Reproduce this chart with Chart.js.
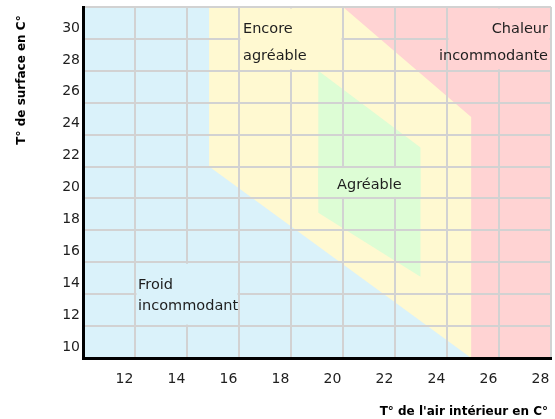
<!DOCTYPE html>
<html>
<head>
<meta charset="utf-8">
<script src="https://cdn.jsdelivr.net/npm/chart.js@4/dist/chart.umd.min.js"></script>
<style>
html,body{margin:0;padding:0;background:#fff}
canvas{display:block}
</style>
</head>
<body>
<canvas id="c" width="555" height="419"></canvas>
<script>
// ---- data ----
const xRange = [11, 29];
const yRange = [9, 31];
const xTickLabels = [12, 14, 16, 18, 20, 22, 24, 26, 28];
const yTickLabels = [10, 12, 14, 16, 18, 20, 22, 24, 26, 28, 30];

const zoneNames = ['Froid incommodant', 'Encore agréable', 'Chaleur incommodante', 'Agréable'];

// zone polygons (x = T° air intérieur, y = T° de surface)
const froidX = [11, 11, 29, 29];
const froidY = [9, 31, 31, 9];
const encoreX = [15.85, 29, 29, 25.93, 15.85];
const encoreY = [31, 31, 9, 9, 21];
const chaleurX = [21, 29, 29, 25.93, 25.93];
const chaleurY = [31, 31, 9, 9, 24.1];
const agreableX = [20.05, 23.98, 23.98, 20.05];
const agreableY = [27, 22.2, 14.1, 18.1];

const axisTitleX = "T° de l'air intérieur en C°";
const axisTitleY = 'T° de surface en C°';

// ---- styles ----
const colors = {
  froid: '#daf2fa',
  encore: '#fff9d1',
  chaleur: '#ffd3d3',
  agreable: '#ddfdd5',
  grid: '#d2d2d2',
  text: '#1e1e1e'
};

function zone(label, xs, ys, color) {
  const pts = xs.map((v, i) => ({x: v, y: ys[i]}));
  pts.push({x: xs[0], y: ys[0]});
  return {
    label: label,
    data: pts,
    backgroundColor: color,
    borderColor: 'rgba(0,0,0,0)',
    borderWidth: 0,
    pointRadius: 0,
    pointHoverRadius: 0,
    tension: 0,
    fill: 'shape'
  };
}

const zoneLabels = {
  id: 'zoneLabels',
  afterDraw(chart, args, opts) {
    const {ctx, scales: {x, y}, chartArea} = chart;
    ctx.save();
    opts.items.forEach(it => {
      const l = x.getPixelForValue(it.box[0]);
      const r = x.getPixelForValue(it.box[1]);
      const t = y.getPixelForValue(it.box[3]);
      const b = y.getPixelForValue(it.box[2]);
      ctx.fillStyle = it.bg;
      ctx.fillRect(l + it.inset, t + 1.5, r - l - 2 * it.inset, b - t - 3);
      ctx.fillStyle = colors.text;
      ctx.font = '14.5px "DejaVu Sans"';
      ctx.textBaseline = 'alphabetic';
      ctx.textAlign = it.align;
      const tx = it.align === 'left' ? l + it.dx : (it.align === 'right' ? r - it.dx : (l + r) / 2);
      it.lines.forEach((s, i) => ctx.fillText(s, tx, t + it.baselines[i]));
    });
    // axis titles
    ctx.fillStyle = '#000';
    ctx.font = 'bold 12px "DejaVu Sans"';
    ctx.textAlign = 'right';
    ctx.textBaseline = 'middle';
    ctx.fillText(axisTitleX, chartArea.right - 3, 411.5);
    ctx.translate(21.5, 80);
    ctx.rotate(-Math.PI / 2);
    ctx.textAlign = 'center';
    ctx.fillText(axisTitleY, 0, 0);
    ctx.restore();
  }
};

const tickFont = {family: 'DejaVu Sans', size: 14};

new Chart(document.getElementById('c'), {
  type: 'line',
  data: {
    datasets: [
      zone(zoneNames[3], agreableX, agreableY, colors.agreable),
      zone(zoneNames[2], chaleurX, chaleurY, colors.chaleur),
      zone(zoneNames[1], encoreX, encoreY, colors.encore),
      zone(zoneNames[0], froidX, froidY, colors.froid)
    ]
  },
  options: {
    responsive: false,
    devicePixelRatio: 1,
    animation: false,
    events: [],
    layout: {padding: {top: 7, right: 4, left: 0, bottom: 0}},
    plugins: {
      legend: {display: false},
      tooltip: {enabled: false},
      zoneLabels: {
        items: [
          {box: [17, 21, 27, 31], bg: colors.encore, inset: 1.5, align: 'left', dx: 4,
           lines: ['Encore', 'agréable'], baselines: [26, 53]},
          {box: [25, 29, 27, 31], bg: colors.chaleur, inset: 1.5, align: 'right', dx: 3,
           lines: ['Chaleur', 'incommodante'], baselines: [26, 53]},
          {box: [13, 17, 11, 15], bg: colors.froid, inset: 1.5, align: 'left', dx: 3,
           lines: ['Froid', 'incommodant'], baselines: [27, 48]},
          {box: [agreableX[0], agreableX[1], 19, 21], bg: colors.agreable, inset: 0, align: 'center', dx: 0,
           lines: ['Agréable'], baselines: [22]}
        ]
      }
    },
    scales: {
      x: {
        type: 'linear',
        min: xRange[0],
        max: xRange[1],
        afterFit: s => { s.height = 61; s.paddingLeft = 0; s.paddingRight = 0; },
        ticks: {
          stepSize: 1,
          autoSkip: false,
          maxRotation: 0,
          labelOffset: 15.5,
          padding: 13,
          font: tickFont,
          color: colors.text,
          callback: v => xTickLabels.includes(v) ? String(v) : ''
        },
        grid: {
          color: c => (c.tick && Math.abs(c.tick.value % 2) === 1) ? colors.grid : 'rgba(0,0,0,0)',
          lineWidth: 2,
          drawTicks: false,
          z: 1
        },
        border: {display: true, color: '#000', width: 3, z: 2}
      },
      y: {
        type: 'linear',
        min: yRange[0],
        max: yRange[1],
        afterFit: s => { s.width = 83; s.paddingTop = 0; s.paddingBottom = 0; },
        ticks: {
          stepSize: 1,
          autoSkip: false,
          labelOffset: 5,
          padding: 3,
          font: tickFont,
          color: colors.text,
          callback: v => yTickLabels.includes(v) ? String(v) : ''
        },
        grid: {
          color: c => (c.tick && Math.abs(c.tick.value % 2) === 1) ? colors.grid : 'rgba(0,0,0,0)',
          lineWidth: 2,
          drawTicks: false,
          z: 1
        },
        border: {display: true, color: '#000', width: 3, z: 2}
      }
    }
  },
  plugins: [zoneLabels]
});
</script>
</body>
</html>
